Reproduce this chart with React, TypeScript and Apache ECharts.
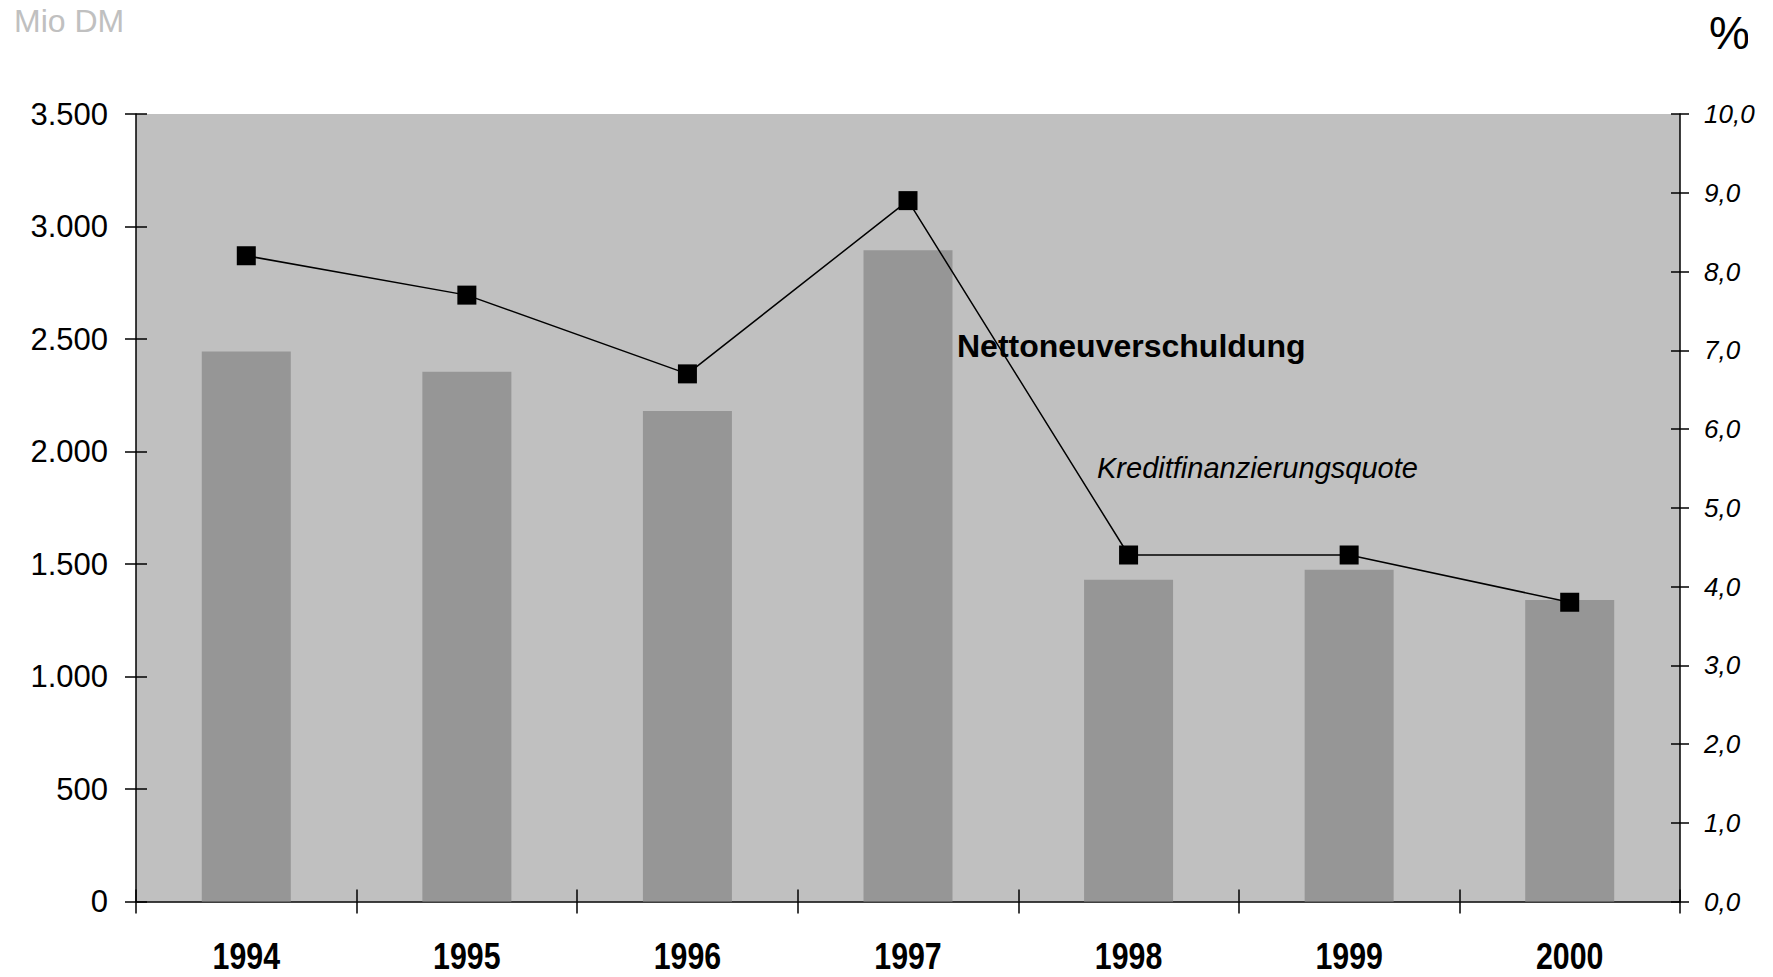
import React, { useEffect, useRef } from "react";
import * as echarts from "echarts";

const years = ["1994", "1995", "1996", "1997", "1998", "1999", "2000"];
const nettoneuverschuldung = [2445, 2355, 2180, 2895, 1430, 1475, 1340];
const kreditfinanzierungsquote = [8.2, 7.7, 6.7, 8.9, 4.4, 4.4, 3.8];

const leftUnit = "Mio DM";
const rightUnit = "%";
const barLabel = "Nettoneuverschuldung";
const lineLabel = "Kreditfinanzierungsquote";

const SANS = '"Liberation Sans", Arial, Helvetica, sans-serif';

function fmtThousands(v: number): string {
  if (v >= 1000) {
    const t = Math.floor(v / 1000);
    const r = String(v % 1000).padStart(3, "0");
    return t + "." + r;
  }
  return String(v);
}

export default function App() {
  const ref = useRef<HTMLDivElement>(null);
  useEffect(() => {
    document.body.style.margin = "0";
    const chart = echarts.init(ref.current!, null, { renderer: "svg" });
    const axisLineStyle = { color: "#000", width: 1.5 };
    const baseGraphic: any[] = [
      {
        type: "text",
        left: 14,
        top: 5,
        style: {
          text: leftUnit,
          fontSize: 32,
          fontFamily: SANS,
          fill: "#c0c0c0",
        },
      },
      {
        type: "text",
        x: 1709,
        y: 33,
        style: {
          text: rightUnit,
          fontSize: 46,
          fontFamily: SANS,
          fill: "#000",
          verticalAlign: "middle",
          align: "left",
        },
        z: 10,
      },
      {
        type: "rect",
        shape: { x: 1748, y: 0, width: 30, height: 70 },
        style: { fill: "#fff" },
        z: 20,
      },
      {
        type: "text",
        x: 957,
        y: 346,
        style: {
          text: barLabel,
          fontSize: 32,
          fontWeight: "bold",
          fontFamily: SANS,
          fill: "#000",
          verticalAlign: "middle",
          align: "left",
        },
        z: 10,
      },
      {
        type: "text",
        x: 1097,
        y: 468,
        style: {
          text: lineLabel,
          fontSize: 29,
          fontStyle: "italic",
          fontFamily: SANS,
          fill: "#000",
          verticalAlign: "middle",
          align: "left",
        },
        z: 10,
      },
    ];
    chart.setOption({
      animation: false,
      backgroundColor: "#fff",
      grid: {
        left: 136,
        right: 93,
        top: 114,
        bottom: 75.5,
        show: true,
        backgroundColor: "#c0c0c0",
        borderWidth: 0,
        containLabel: false,
      },
      xAxis: [
        {
          type: "category",
          data: years,
          position: "bottom",
          boundaryGap: true,
          axisLine: { show: true, lineStyle: axisLineStyle },
          axisTick: { show: true, length: 12, inside: false, lineStyle: axisLineStyle },
          axisLabel: { show: false },
          splitLine: { show: false },
        },
        {
          type: "category",
          data: years,
          position: "bottom",
          boundaryGap: true,
          axisLine: { show: false },
          axisTick: { show: true, length: 12, inside: true, lineStyle: axisLineStyle },
          axisLabel: { show: false },
          splitLine: { show: false },
        },
      ],
      yAxis: [
        {
          type: "value",
          position: "left",
          min: 0,
          max: 3500,
          interval: 500,
          axisLine: { show: true, lineStyle: axisLineStyle },
          axisTick: { show: true, length: 11, inside: false, lineStyle: axisLineStyle },
          axisLabel: {
            margin: 28,
            fontSize: 31,
            fontFamily: SANS,
            color: "#000",
            formatter: (v: number) => fmtThousands(v),
          },
          splitLine: { show: false },
        },
        {
          type: "value",
          position: "left",
          min: 0,
          max: 3500,
          interval: 500,
          axisLine: { show: false },
          axisTick: { show: true, length: 11, inside: true, lineStyle: axisLineStyle },
          axisLabel: { show: false },
          splitLine: { show: false },
        },
        {
          type: "value",
          position: "right",
          min: 0,
          max: 10,
          interval: 1,
          axisLine: { show: true, lineStyle: axisLineStyle },
          axisTick: { show: true, length: 9, inside: false, lineStyle: axisLineStyle },
          axisLabel: {
            margin: 24,
            fontSize: 26,
            fontStyle: "italic",
            fontFamily: SANS,
            color: "#000",
            formatter: (v: number) => v.toFixed(1).replace(".", ","),
          },
          splitLine: { show: false },
        },
        {
          type: "value",
          position: "right",
          min: 0,
          max: 10,
          interval: 1,
          axisLine: { show: false },
          axisTick: { show: true, length: 9, inside: true, lineStyle: axisLineStyle },
          axisLabel: { show: false },
          splitLine: { show: false },
        },
      ],
      series: [
        {
          name: barLabel,
          type: "bar",
          xAxisIndex: 0,
          yAxisIndex: 0,
          data: nettoneuverschuldung,
          barWidth: 89,
          itemStyle: { color: "#969696" },
          silent: true,
        },
        {
          name: lineLabel,
          type: "line",
          xAxisIndex: 0,
          yAxisIndex: 2,
          data: kreditfinanzierungsquote,
          symbol: "rect",
          symbolSize: 19,
          lineStyle: { color: "#000", width: 1.5 },
          itemStyle: { color: "#000" },
          z: 5,
          silent: true,
        },
      ],
      graphic: baseGraphic,
    });

    // Year labels: condensed bold, placed at the category axis positions
    const zeroY = chart.convertToPixel({ yAxisIndex: 0 }, 0) as number;
    const yearTexts = years.map((yr) => {
      const cx = chart.convertToPixel({ xAxisIndex: 0 }, yr) as number;
      return {
        type: "text",
        x: cx,
        y: zeroY + 54,
        scaleX: 0.82,
        style: {
          text: yr,
          fontSize: 37,
          fontWeight: "bold",
          fontFamily: SANS,
          fill: "#000",
          align: "center",
          verticalAlign: "middle",
        },
        z: 10,
      };
    });
    chart.setOption({ graphic: [...baseGraphic, ...yearTexts] });

    return () => chart.dispose();
  }, []);
  return (
    <div
      ref={ref}
      style={{ position: "absolute", left: 0, top: 0, width: 1773, height: 977 }}
    />
  );
}
